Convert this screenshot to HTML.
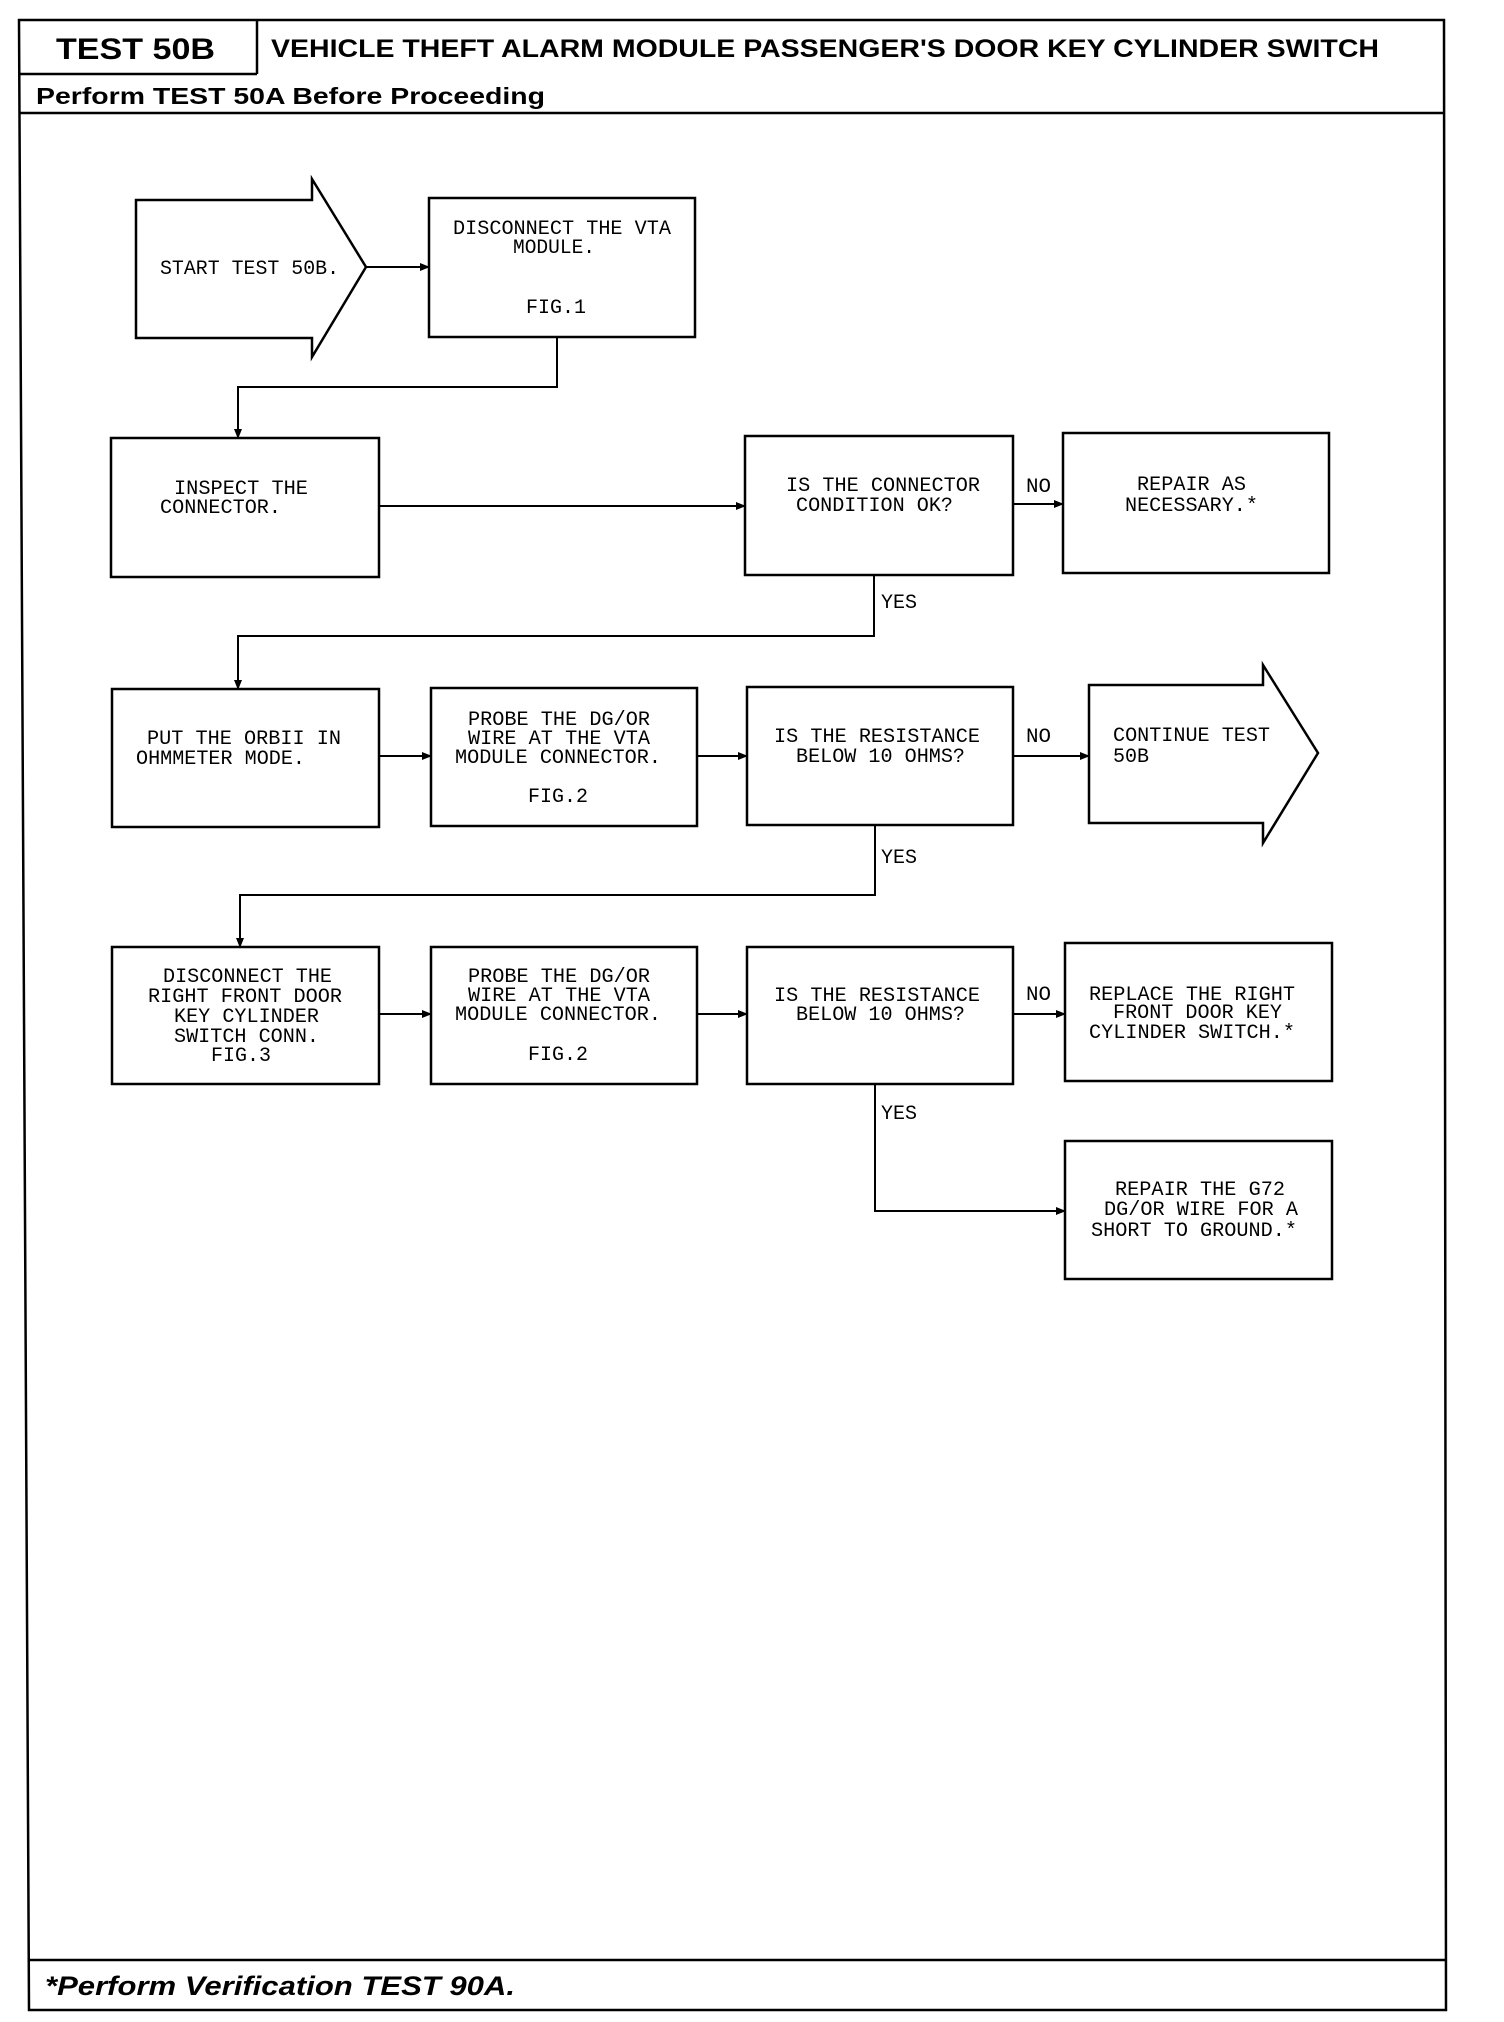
<!DOCTYPE html>
<html><head><meta charset="utf-8"><style>html,body{margin:0;padding:0;background:#fff}svg{display:block}</style></head>
<body>
<svg width="1504" height="2022" viewBox="0 0 1504 2022" xmlns="http://www.w3.org/2000/svg">
<defs><marker id="a" markerWidth="10" markerHeight="8" refX="9" refY="4" orient="auto" markerUnits="userSpaceOnUse"><path d="M0,0 L10,4 L0,8 Z" fill="#000"/></marker></defs>
<g fill="none" stroke="#000" stroke-width="2.5">
<polygon points="19,20 1444,20 1446,2010 29,2010"/>
<line x1="19" y1="74" x2="257" y2="74"/>
<line x1="257" y1="20" x2="257" y2="74"/>
<line x1="19" y1="113" x2="1445" y2="113"/>
<line x1="28" y1="1960" x2="1446" y2="1960"/>
<polygon points="136,200 312,200 312,179 366,267 312,357 312,338 136,338"/>
<rect x="429" y="198" width="266" height="139"/>
<rect x="111" y="438" width="268" height="139"/>
<rect x="745" y="436" width="268" height="139"/>
<rect x="1063" y="433" width="266" height="140"/>
<rect x="112" y="689" width="267" height="138"/>
<rect x="431" y="688" width="266" height="138"/>
<rect x="747" y="687" width="266" height="138"/>
<polygon points="1089,685 1263,685 1263,665 1318,753 1263,843 1263,823 1089,823"/>
<rect x="112" y="947" width="267" height="137"/>
<rect x="431" y="947" width="266" height="137"/>
<rect x="747" y="947" width="266" height="137"/>
<rect x="1065" y="943" width="267" height="138"/>
<rect x="1065" y="1141" width="267" height="138"/>
</g>
<g fill="none" stroke="#000" stroke-width="2">
<line x1="366" y1="267" x2="429" y2="267" marker-end="url(#a)"/>
<polyline points="557,337 557,387 238,387 238,438" marker-end="url(#a)"/>
<line x1="379" y1="506" x2="745" y2="506" marker-end="url(#a)"/>
<line x1="1013" y1="504" x2="1063" y2="504" marker-end="url(#a)"/>
<polyline points="874,575 874,636 238,636 238,689" marker-end="url(#a)"/>
<line x1="379" y1="756" x2="431" y2="756" marker-end="url(#a)"/>
<line x1="697" y1="756" x2="747" y2="756" marker-end="url(#a)"/>
<line x1="1013" y1="756" x2="1089" y2="756" marker-end="url(#a)"/>
<polyline points="875,825 875,895 240,895 240,947" marker-end="url(#a)"/>
<line x1="379" y1="1014" x2="431" y2="1014" marker-end="url(#a)"/>
<line x1="697" y1="1014" x2="747" y2="1014" marker-end="url(#a)"/>
<line x1="1013" y1="1014" x2="1065" y2="1014" marker-end="url(#a)"/>
<polyline points="875,1084 875,1211 1065,1211" marker-end="url(#a)"/>
</g>
<g font-family="Liberation Sans, sans-serif" font-weight="bold" fill="#000">
<text x="56" y="59" font-size="30" textLength="159" lengthAdjust="spacingAndGlyphs">TEST 50B</text>
<text x="271" y="57" font-size="25" textLength="1108" lengthAdjust="spacingAndGlyphs">VEHICLE THEFT ALARM MODULE PASSENGER'S DOOR KEY CYLINDER SWITCH</text>
<text x="36" y="104" font-size="23" textLength="509" lengthAdjust="spacingAndGlyphs">Perform TEST 50A Before Proceeding</text>
<text x="45" y="1995" font-size="27" font-style="italic" textLength="470" lengthAdjust="spacingAndGlyphs">*Perform Verification TEST 90A.</text>
</g>
<g font-family="Liberation Mono, monospace" font-size="20" fill="#000">
<text x="160" y="274" textLength="179" lengthAdjust="spacingAndGlyphs">START TEST 50B.</text>
<text x="453" y="234" textLength="218" lengthAdjust="spacingAndGlyphs">DISCONNECT THE VTA</text>
<text x="513" y="253" textLength="82" lengthAdjust="spacingAndGlyphs">MODULE.</text>
<text x="526" y="313" textLength="60" lengthAdjust="spacingAndGlyphs">FIG.1</text>
<text x="174" y="494" textLength="134" lengthAdjust="spacingAndGlyphs">INSPECT THE</text>
<text x="160" y="513" textLength="121" lengthAdjust="spacingAndGlyphs">CONNECTOR.</text>
<text x="786" y="491" textLength="194" lengthAdjust="spacingAndGlyphs">IS THE CONNECTOR</text>
<text x="796" y="511" textLength="157" lengthAdjust="spacingAndGlyphs">CONDITION OK?</text>
<text x="1026" y="492" textLength="25" lengthAdjust="spacingAndGlyphs">NO</text>
<text x="1137" y="490" textLength="109" lengthAdjust="spacingAndGlyphs">REPAIR AS</text>
<text x="1125" y="511" textLength="133" lengthAdjust="spacingAndGlyphs">NECESSARY.*</text>
<text x="881" y="608" textLength="36" lengthAdjust="spacingAndGlyphs">YES</text>
<text x="147" y="744" textLength="194" lengthAdjust="spacingAndGlyphs">PUT THE ORBII IN</text>
<text x="136" y="764" textLength="169" lengthAdjust="spacingAndGlyphs">OHMMETER MODE.</text>
<text x="468" y="725" textLength="182" lengthAdjust="spacingAndGlyphs">PROBE THE DG/OR</text>
<text x="468" y="744" textLength="182" lengthAdjust="spacingAndGlyphs">WIRE AT THE VTA</text>
<text x="455" y="763" textLength="206" lengthAdjust="spacingAndGlyphs">MODULE CONNECTOR.</text>
<text x="528" y="802" textLength="60" lengthAdjust="spacingAndGlyphs">FIG.2</text>
<text x="774" y="742" textLength="206" lengthAdjust="spacingAndGlyphs">IS THE RESISTANCE</text>
<text x="796" y="762" textLength="169" lengthAdjust="spacingAndGlyphs">BELOW 10 OHMS?</text>
<text x="1026" y="742" textLength="25" lengthAdjust="spacingAndGlyphs">NO</text>
<text x="1113" y="741" textLength="157" lengthAdjust="spacingAndGlyphs">CONTINUE TEST</text>
<text x="1113" y="762" textLength="36" lengthAdjust="spacingAndGlyphs">50B</text>
<text x="881" y="863" textLength="36" lengthAdjust="spacingAndGlyphs">YES</text>
<text x="163" y="982" textLength="169" lengthAdjust="spacingAndGlyphs">DISCONNECT THE</text>
<text x="148" y="1002" textLength="194" lengthAdjust="spacingAndGlyphs">RIGHT FRONT DOOR</text>
<text x="174" y="1022" textLength="145" lengthAdjust="spacingAndGlyphs">KEY CYLINDER</text>
<text x="174" y="1042" textLength="145" lengthAdjust="spacingAndGlyphs">SWITCH CONN.</text>
<text x="211" y="1061" textLength="60" lengthAdjust="spacingAndGlyphs">FIG.3</text>
<text x="468" y="982" textLength="182" lengthAdjust="spacingAndGlyphs">PROBE THE DG/OR</text>
<text x="468" y="1001" textLength="182" lengthAdjust="spacingAndGlyphs">WIRE AT THE VTA</text>
<text x="455" y="1020" textLength="206" lengthAdjust="spacingAndGlyphs">MODULE CONNECTOR.</text>
<text x="528" y="1060" textLength="60" lengthAdjust="spacingAndGlyphs">FIG.2</text>
<text x="774" y="1001" textLength="206" lengthAdjust="spacingAndGlyphs">IS THE RESISTANCE</text>
<text x="796" y="1020" textLength="169" lengthAdjust="spacingAndGlyphs">BELOW 10 OHMS?</text>
<text x="1026" y="1000" textLength="25" lengthAdjust="spacingAndGlyphs">NO</text>
<text x="1089" y="1000" textLength="206" lengthAdjust="spacingAndGlyphs">REPLACE THE RIGHT</text>
<text x="1113" y="1018" textLength="169" lengthAdjust="spacingAndGlyphs">FRONT DOOR KEY</text>
<text x="1089" y="1038" textLength="206" lengthAdjust="spacingAndGlyphs">CYLINDER SWITCH.*</text>
<text x="881" y="1119" textLength="36" lengthAdjust="spacingAndGlyphs">YES</text>
<text x="1115" y="1195" textLength="170" lengthAdjust="spacingAndGlyphs">REPAIR THE G72</text>
<text x="1104" y="1215" textLength="194" lengthAdjust="spacingAndGlyphs">DG/OR WIRE FOR A</text>
<text x="1091" y="1236" textLength="206" lengthAdjust="spacingAndGlyphs">SHORT TO GROUND.*</text>
</g>
</svg>
</body></html>
